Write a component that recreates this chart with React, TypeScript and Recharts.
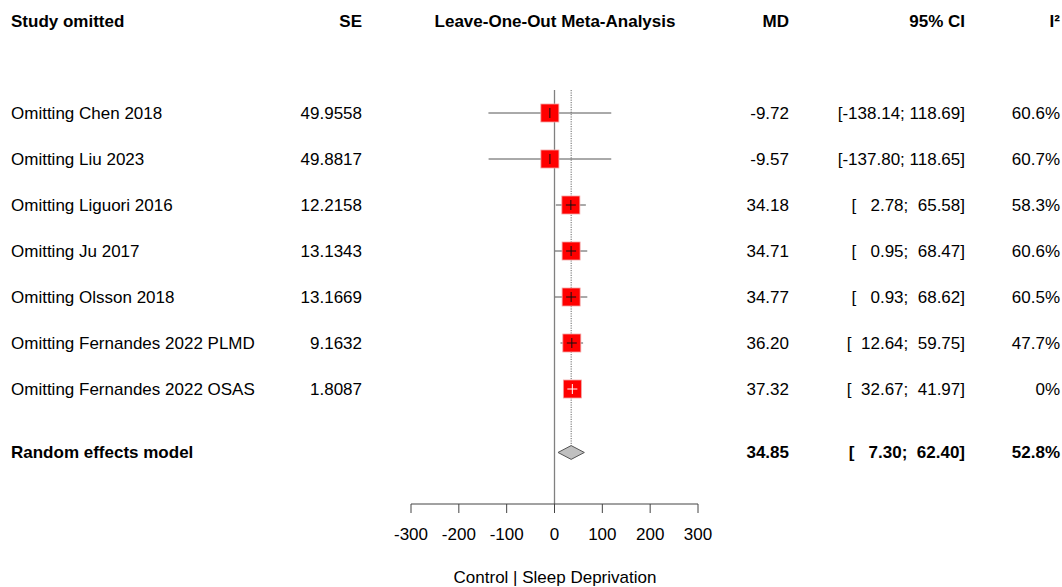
import {
  Area,
  ComposedChart,
  Customized,
  ErrorBar,
  ReferenceLine,
  Scatter,
  XAxis,
  YAxis,
} from "recharts";

// leave-one-out rows
const studies = [
  "Omitting Chen 2018",
  "Omitting Liu 2023",
  "Omitting Liguori 2016",
  "Omitting Ju 2017",
  "Omitting Olsson 2018",
  "Omitting Fernandes 2022 PLMD",
  "Omitting Fernandes 2022 OSAS",
];
const seValues = ["49.9558", "49.8817", "12.2158", "13.1343", "13.1669", "9.1632", "1.8087"];
const mdValues = [-9.72, -9.57, 34.18, 34.71, 34.77, 36.2, 37.32];
const ciLower = [-138.14, -137.8, 2.78, 0.95, 0.93, 12.64, 32.67];
const ciUpper = [118.69, 118.65, 65.58, 68.47, 68.62, 59.75, 41.97];
const i2Values = ["60.6%", "60.7%", "58.3%", "60.6%", "60.5%", "47.7%", "0%"];

// pooled estimate
const summaryLabel = "Random effects model";
const summaryMd = 34.85;
const summaryLower = 7.3;
const summaryUpper = 62.4;
const summaryI2 = "52.8%";

const xTicks = [-300, -200, -100, 0, 100, 200, 300];
const headers = ["Study omitted", "SE", "Leave-One-Out Meta-Analysis", "MD", "95% CI", "I²"];
const axisTitle = "Control | Sleep Deprivation";

const FONT = "'Liberation Sans', Arial, Helvetica, sans-serif";
const SUMMARY_ROW = 7.38;
const DIAMOND_HALF = 0.15;
const BOX = 18;

const fmt = (v: number, w: number) => v.toFixed(2).padStart(w, " ");
const ciText = (lo: number, hi: number) => `[${fmt(lo, 7)}; ${fmt(hi, 6)}]`;

const rows = studies.map((study, i) => ({
  study,
  se: seValues[i],
  x: mdValues[i],
  y: i,
  lo: ciLower[i],
  hi: ciUpper[i],
  err: [mdValues[i] - ciLower[i], ciUpper[i] - mdValues[i]],
  i2: i2Values[i],
}));

const summary = [
  { x: summaryMd, y: SUMMARY_ROW, lo: summaryLower, hi: summaryUpper, i2: summaryI2 },
];

const diamond = [
  { x: summaryLower, band: [SUMMARY_ROW, SUMMARY_ROW] },
  { x: summaryMd, band: [SUMMARY_ROW - DIAMOND_HALF, SUMMARY_ROW + DIAMOND_HALF] },
  { x: summaryUpper, band: [SUMMARY_ROW, SUMMARY_ROW] },
];

const textProps = {
  fontFamily: FONT,
  fontSize: 17,
  fill: "#000",
  dy: "0.35em",
  style: { whiteSpace: "pre" as const },
};

const StudyRow = (props: any) => {
  const { cx, cy, payload } = props;
  const span = payload.hi - payload.lo;
  const mark = span < 20 ? "#fff" : "#111";
  return (
    <g>
      <rect
        x={cx - BOX / 2}
        y={cy - BOX / 2}
        width={BOX}
        height={BOX}
        fill="#ff0000"
        stroke="#f3a3a3"
        strokeWidth={0.8}
      />
      <line x1={cx} x2={cx} y1={cy - 5} y2={cy + 5} stroke={mark} strokeWidth={1} />
      {span < 150 && (
        <line x1={cx - 5} x2={cx + 5} y1={cy} y2={cy} stroke={mark} strokeWidth={1} />
      )}
      <text {...textProps} x={11} y={cy}>{payload.study}</text>
      <text {...textProps} x={362} y={cy} textAnchor="end">{payload.se}</text>
      <text {...textProps} x={789} y={cy} textAnchor="end">{payload.x.toFixed(2)}</text>
      <text {...textProps} x={965} y={cy} textAnchor="end">{ciText(payload.lo, payload.hi)}</text>
      <text {...textProps} x={1060} y={cy} textAnchor="end">{payload.i2}</text>
    </g>
  );
};

const SummaryRow = (props: any) => {
  const { cy, payload } = props;
  const bold = { ...textProps, fontWeight: 700 };
  return (
    <g>
      <text {...bold} x={11} y={cy}>{summaryLabel}</text>
      <text {...bold} x={789} y={cy} textAnchor="end">{payload.x.toFixed(2)}</text>
      <text {...bold} x={965} y={cy} textAnchor="end">{ciText(payload.lo, payload.hi)}</text>
      <text {...bold} x={1060} y={cy} textAnchor="end">{payload.i2}</text>
    </g>
  );
};

const Titles = () => {
  const bold = { ...textProps, fontWeight: 700 };
  return (
    <g>
      <text {...bold} x={11} y={21}>{headers[0]}</text>
      <text {...bold} x={362} y={21} textAnchor="end">{headers[1]}</text>
      <text {...bold} x={555} y={21} textAnchor="middle">{headers[2]}</text>
      <text {...bold} x={789} y={21} textAnchor="end">{headers[3]}</text>
      <text {...bold} x={965} y={21} textAnchor="end">{headers[4]}</text>
      <text {...bold} x={1060} y={21} textAnchor="end">{headers[5]}</text>
      <text {...textProps} x={555} y={577} textAnchor="middle">{axisTitle}</text>
    </g>
  );
};

export default function App() {
  return (
    <div style={{ position: "absolute", left: 0, top: 0, background: "#fff" }}>
      <ComposedChart
        width={1062}
        height={587}
        margin={{ top: 90, right: 364, bottom: 0, left: 411 }}
      >
        <XAxis
          type="number"
          dataKey="x"
          domain={[-300, 300]}
          ticks={xTicks}
          interval={0}
          tickSize={9}
          tickMargin={15}
          height={83}
          axisLine={{ stroke: "#444" }}
          tickLine={{ stroke: "#444" }}
          tick={{ fontSize: 17, fill: "#000", fontFamily: FONT }}
        />
        <YAxis type="number" dataKey="y" domain={[-0.5, 8.5]} reversed hide />
        <ReferenceLine x={0} stroke="#808080" strokeWidth={1.3} />
        <ReferenceLine
          segment={[
            { x: summaryMd, y: -0.5 },
            { x: summaryMd, y: SUMMARY_ROW - DIAMOND_HALF },
          ]}
          stroke="#666"
          strokeDasharray="1.2 1.2"
        />
        <Area
          data={diamond}
          dataKey="band"
          type="linear"
          stroke="#555"
          strokeWidth={1}
          fill="#c0c0c0"
          fillOpacity={1}
          dot={false}
          activeDot={false}
          isAnimationActive={false}
        />
        <Scatter data={rows} shape={<StudyRow />} isAnimationActive={false}>
          <ErrorBar dataKey="err" direction="x" width={0} stroke="#555" strokeWidth={1} />
        </Scatter>
        <Scatter data={summary} shape={<SummaryRow />} isAnimationActive={false} />
        <Customized component={Titles} />
      </ComposedChart>
    </div>
  );
}
